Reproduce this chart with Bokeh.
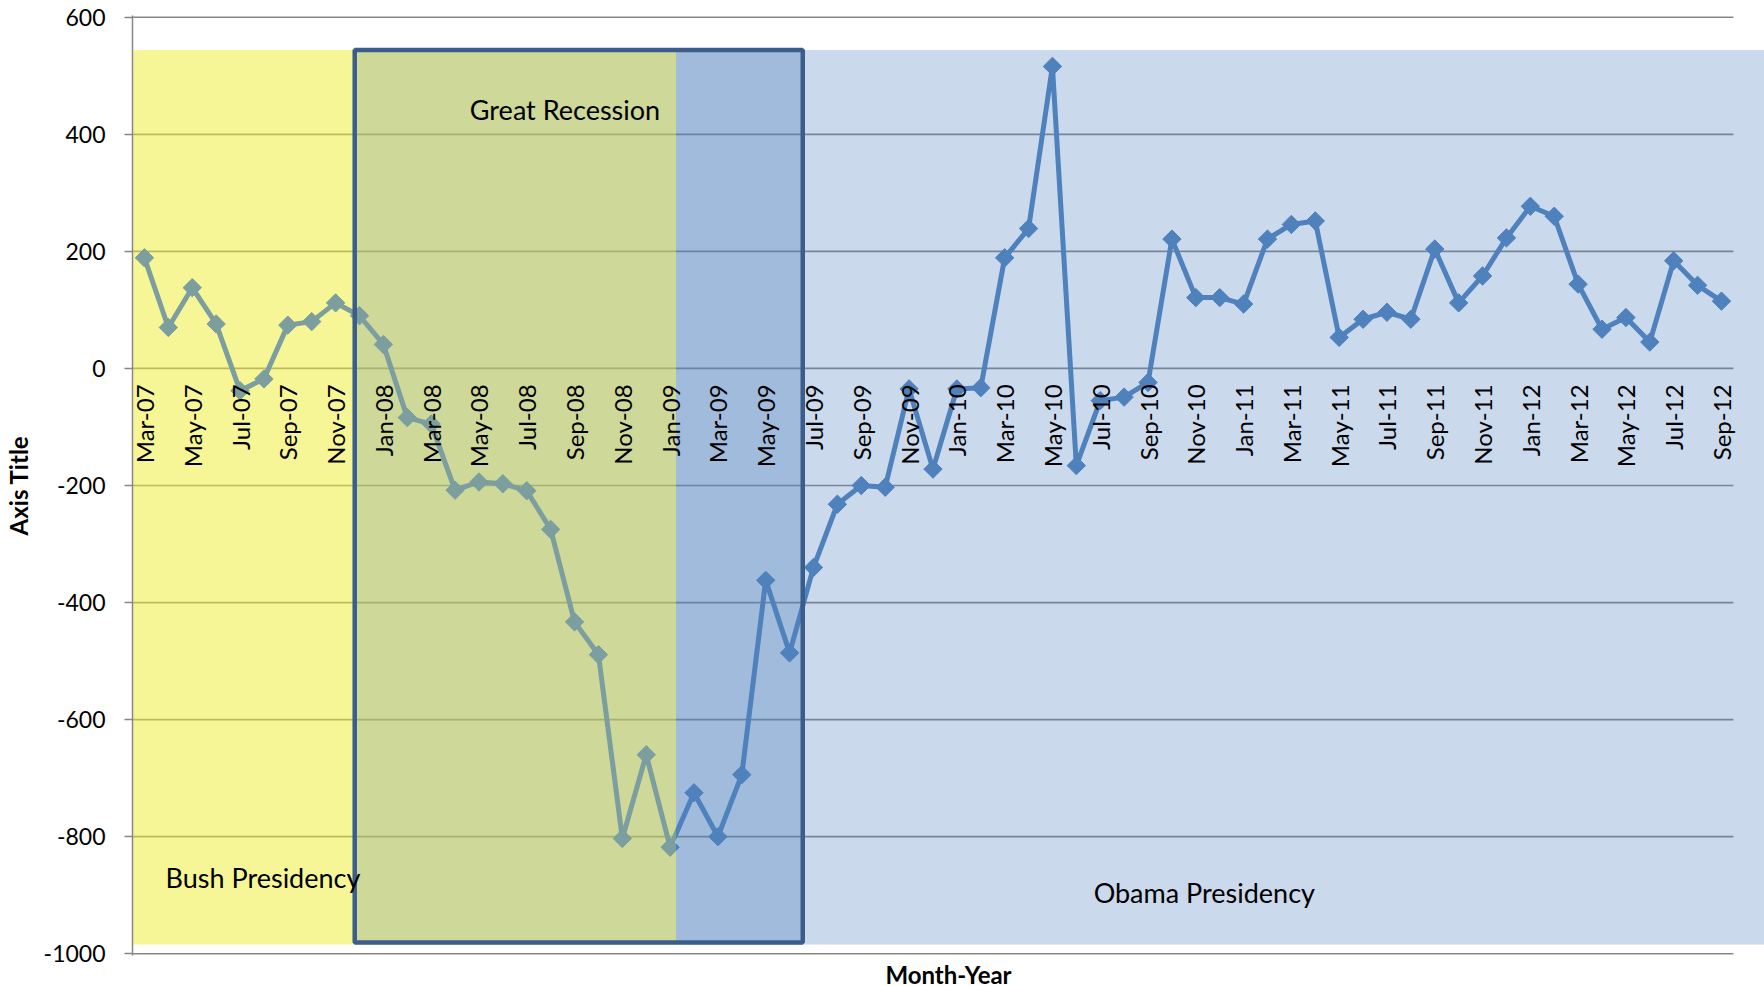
import numpy as np
import pandas as pd
from bokeh.plotting import figure
from bokeh.models import Range1d, LinearAxis, FixedTicker
from bokeh.core.properties import value
from bokeh.embed import file_html
from bokeh.resources import INLINE

# ---- data -------------------------------------------------------------
months = list(pd.period_range("2007-03", "2012-09", freq="M").strftime("%b-%y"))
jobs = [189, 70, 138, 76, -38, -18, 74, 80, 112, 90,
        41, -84, -95, -208, -194, -197, -209, -275, -433, -489, -803, -660,
        -818, -725, -800, -694, -362, -486, -340, -232, -200, -203, -35, -172,
        -35, -33, 189, 239, 516, -166, -55, -49, -24, 221, 121, 121,
        110, 221, 246, 252, 53, 84, 96, 84, 204, 112, 158, 223,
        277, 260, 144, 67, 87, 45, 184, 142, 115]
y_ticks = [-1000, -800, -600, -400, -200, 0, 200, 400, 600]
label_idx = list(range(0, len(months), 2))

# shaded periods (in month-index units / y units)
bush_span = (-0.5, 22.25)
recession_span = (8.8, 27.55)
obama_span = (22.25, 67.8)
shade_top, shade_bottom = 544, -984
box_bottom = -981

notes = ["Bush Presidency", "Great Recession", "Obama  Presidency"]
note_x = [4.96, 17.6, 44.5]
note_y = [-869, 442, -896]

x = list(range(len(months)))
FONT = "Lato"
GRID = "#878787"
BLUE = "#4f81bd"

p = figure(frame_width=1632, frame_height=940,
           x_range=Range1d(-0.5, 67.8), y_range=Range1d(-1003, 603),
           output_backend="svg", toolbar_location=None,
           min_border_left=132, min_border_right=0, min_border_top=15,
           min_border_bottom=31)
p.outline_line_color = None
p.xgrid.visible = False
p.ygrid.visible = False
p.background_fill_color = "white"
p.border_fill_color = "white"

# bottom axis: only the title
xa = p.xaxis[0]
xa.ticker = FixedTicker(ticks=[])
xa.axis_line_color = None
xa.major_tick_line_color = None
xa.minor_tick_line_color = None
xa.axis_label = "Month-Year"
xa.axis_label_text_font = FONT
xa.axis_label_text_font_style = "bold"
xa.axis_label_text_font_size = "24px"
xa.axis_label_standoff = 4
xa.axis_label_text_color = "black"

# category labels at y = 0
lab = LinearAxis(fixed_location=0, ticker=FixedTicker(ticks=label_idx),
                 major_label_overrides={i: months[i] for i in label_idx})
lab.axis_line_color = None
lab.major_tick_line_color = None
lab.minor_tick_line_color = None
lab.major_label_orientation = np.pi / 2
lab.major_label_text_font = FONT
lab.major_label_text_font_size = "24px"
lab.major_label_text_color = "black"
lab.major_label_standoff = 10
p.add_layout(lab, "below")

ya = p.yaxis[0]
ya.ticker = FixedTicker(ticks=y_ticks)
ya.major_label_overrides = {t: str(t) for t in y_ticks}
ya.axis_line_color = GRID
ya.axis_line_width = 1.5
ya.major_tick_line_color = GRID
ya.major_tick_line_width = 1.5
ya.major_tick_out = 8
ya.major_tick_in = 0
ya.minor_tick_line_color = None
ya.major_label_text_font = FONT
ya.major_label_text_font_size = "23px"
ya.major_label_text_color = "black"
ya.major_label_standoff = 19
ya.axis_label = "Axis Title"
ya.axis_label_text_font = FONT
ya.axis_label_text_font_style = "bold"
ya.axis_label_text_font_size = "24px"
ya.axis_label_text_color = "black"
ya.axis_label_standoff = 8

# gridlines (stop at the end of the category axis)
p.segment(x0=[-0.5] * len(y_ticks), x1=[66.5] * len(y_ticks), y0=y_ticks, y1=y_ticks,
          line_color=GRID, line_width=1.7)

# fills behind the series
p.quad(left=[bush_span[0]], right=[bush_span[1]], top=[shade_top], bottom=[shade_bottom],
       fill_color="#ffff00", fill_alpha=0.30, line_color=None)
p.quad(left=[recession_span[0]], right=[recession_span[1]], top=[shade_top], bottom=[box_bottom],
       fill_color=BLUE, fill_alpha=0.34, line_color=None)

# series
p.line(x, jobs, line_color=BLUE, line_width=5)
p.scatter(x, jobs, marker="square", angle=np.pi / 4, size=13,
          fill_color=BLUE, line_color=BLUE)

# presidency overlays on top of the series
p.quad(left=[bush_span[0]], right=[bush_span[1]], top=[shade_top], bottom=[shade_bottom],
       fill_color="#e6e15a", fill_alpha=0.30, line_color=None)
p.quad(left=[obama_span[0]], right=[obama_span[1]], top=[shade_top], bottom=[shade_bottom],
       fill_color=BLUE, fill_alpha=0.30, line_color=None)

# recession box border
p.quad(left=[recession_span[0]], right=[recession_span[1]], top=[shade_top], bottom=[box_bottom],
       fill_color=None, line_color="#3a5d8c", line_width=4.5)

p.text(x=note_x, y=note_y, text=notes, text_font=value(FONT), text_font_size="27px",
       text_align="center", text_baseline="middle", text_color="black")

open("out.html", "w").write(file_html(p, INLINE))
